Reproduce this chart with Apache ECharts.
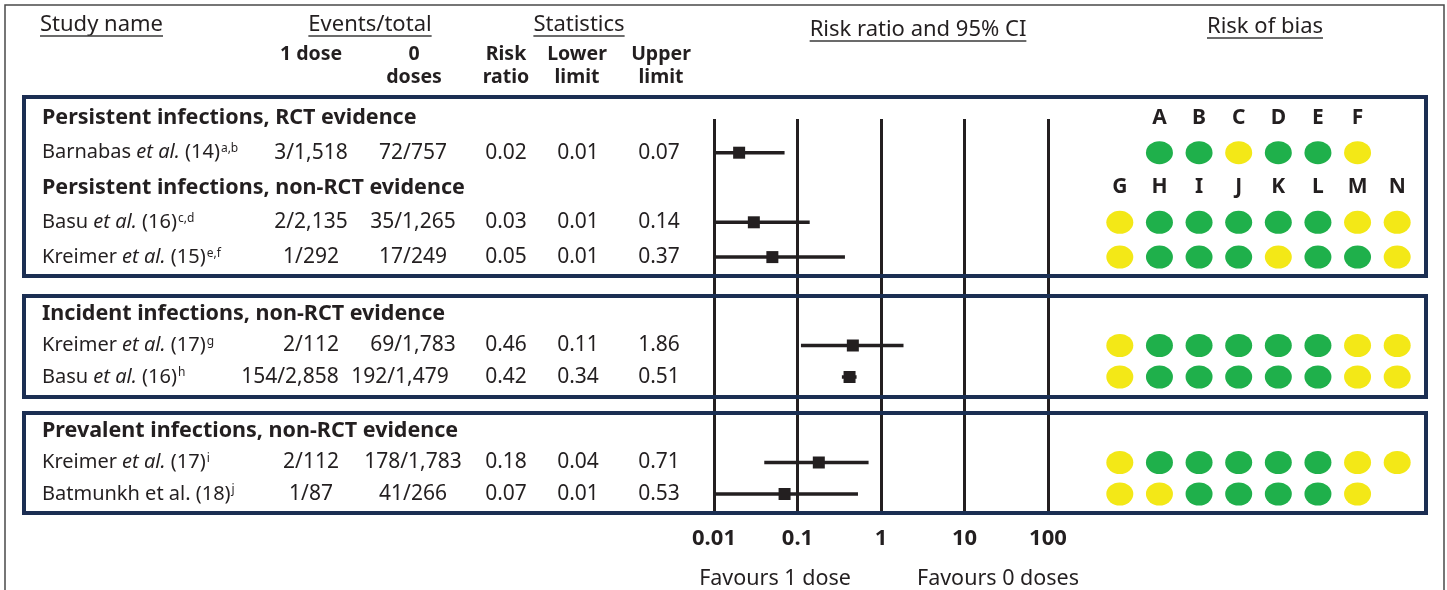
<!DOCTYPE html>
<html><head><meta charset="utf-8">
<script src="https://cdn.jsdelivr.net/npm/echarts@6/dist/echarts.min.js"></script>
<style>html,body{margin:0;padding:0;background:#fff}#c{width:1447px;height:590px}</style>
</head><body><div id="c"></div>
<script>
// ---------------- DATA ----------------
const groupTitles = [
  'Persistent infections, RCT evidence',
  'Persistent infections, non-RCT evidence',
  'Incident infections, non-RCT evidence',
  'Prevalent infections, non-RCT evidence'
];
const groupDomainSet = [0, 1, 1, 1];          // 0 = RCT domains (A-F), 1 = non-RCT domains (G-N)
const studyAuthors = ['Barnabas', 'Basu', 'Kreimer', 'Kreimer', 'Basu', 'Kreimer', 'Batmunkh'];
const studyEtAlItalic = [true, true, true, true, true, true, false];
const studyRefs = ['14', '16', '15', '17', '16', '17', '18'];
const studyNotes = ['a,b', 'c,d', 'e,f', 'g', 'h', 'i', 'j'];
const studyGroup = [0, 1, 1, 2, 2, 3, 3];
const events1Dose = ['3/1,518', '2/2,135', '1/292', '2/112', '154/2,858', '2/112', '1/87'];
const events0Doses = ['72/757', '35/1,265', '17/249', '69/1,783', '192/1,479', '178/1,783', '41/266'];
const riskRatio = [0.02, 0.03, 0.05, 0.46, 0.42, 0.18, 0.07];
const lowerLimit = [0.01, 0.01, 0.01, 0.11, 0.34, 0.04, 0.01];
const upperLimit = [0.07, 0.14, 0.37, 1.86, 0.51, 0.71, 0.53];
const domainsRCT = ['A', 'B', 'C', 'D', 'E', 'F'];
const domainsNonRCT = ['G', 'H', 'I', 'J', 'K', 'L', 'M', 'N'];
// L = low risk (green), S = some concerns (yellow), null = not assessed
const riskOfBias = [
  ['L', 'L', 'S', 'L', 'L', 'S'],
  ['S', 'L', 'L', 'L', 'L', 'L', 'S', 'S'],
  ['S', 'L', 'L', 'L', 'S', 'L', 'L', 'S'],
  ['S', 'L', 'L', 'L', 'L', 'L', 'S', 'S'],
  ['S', 'L', 'L', 'L', 'L', 'L', 'S', 'S'],
  ['S', 'L', 'L', 'L', 'L', 'L', 'S', 'S'],
  ['S', 'S', 'L', 'L', 'L', 'L', 'S', null]
];
const xTickLabels = ['0.01', '0.1', '1', '10', '100'];
const headerTitles = ['Study name', 'Events/total', 'Statistics', 'Risk ratio and 95% CI', 'Risk of bias'];
const subHeaders = [['1 dose'], ['0', 'doses'], ['Risk', 'ratio'], ['Lower', 'limit'], ['Upper', 'limit']];
const favourLabels = ['Favours 1 dose', 'Favours 0 doses'];

// ---------------- LAYOUT / STYLE ----------------
const FONT = '"Noto Sans", "Open Sans", sans-serif';
const TXT = '#231f20';
const NAVY = '#1b2e52';
const COLORS = { L: '#1fb04b', S: '#f3e817' };
const boxes = [
  { groups: [0, 1], top: 97, bottom: 276, gridTop: 100.5, gridH: 174 },
  { groups: [2], top: 296, bottom: 397, gridTop: 298.25, gridH: 94.5 },
  { groups: [3], top: 413, bottom: 513, gridTop: 415.25, gridH: 94.5 }
];
const BOX_L = 24, BOX_R = 1426;
const FOREST_L = 714, FOREST_W = 334;
const ROB_L = 1100, ROB_W = 317, ROB_SLOTS = 8;
const NAME_X = 42;
const colCenters = [311, 413, 506, 578, 659];
const headerCenters = [null, 370, 579, 918, 1265];
const headerY = [25, 25, 25, 30, 27];
const subHeaderCenters = [311, 414, 506, 577, 661];
const cellNudge = { 4: [-21, -13] }; // crowded row shifted as in the original

const ellipsePath = 'path://M0,11.5A13.5,11.5 0 1 1 27,11.5A13.5,11.5 0 1 1 0,11.5Z';

const measureCtx = document.createElement('canvas').getContext('2d');
function textW(t, font) { measureCtx.font = font; return measureCtx.measureText(t).width; }

// ---------------- BUILD ----------------
const grid = [{ left: FOREST_L, width: FOREST_W, top: 119, height: 394 }];
const xAxis = [{
  type: 'log', logBase: 10, min: 0.01, max: 100, gridIndex: 0,
  axisLine: { show: false }, axisTick: { show: false },
  splitLine: { show: true, showMinLine: true, showMaxLine: true, lineStyle: { color: TXT, width: 3 } },
  axisLabel: {
    color: TXT, fontFamily: FONT, fontWeight: 'bold', fontSize: 22, margin: 15,
    formatter: v => xTickLabels[Math.round(Math.log10(v)) + 2]
  }
}];
const yAxis = [{ type: 'value', gridIndex: 0, min: 0, max: 1, show: false }];
const series = [{ type: 'scatter', xAxisIndex: 0, yAxisIndex: 0, data: [] }];
const graphics = [];

// outer frame
graphics.push({ type: 'rect', shape: { x: 5, y: 5, width: 1439, height: 600 }, style: { fill: null, stroke: '#4a4a4a', lineWidth: 1.5 }, z: 1 });

boxes.forEach((b, bi) => {
  const rows = [];
  b.groups.forEach(g => {
    rows.push({ type: 'group', g });
    studyGroup.forEach((sg, s) => { if (sg === g) rows.push({ type: 'study', s }); });
  });
  const rowKeys = rows.map((r, i) => 'r' + i);
  const fi = grid.length, ri = grid.length + 1;
  grid.push({ left: FOREST_L, width: FOREST_W, top: b.gridTop, height: b.gridH });
  grid.push({ left: ROB_L, width: ROB_W, top: b.gridTop, height: b.gridH });
  xAxis.push({ type: 'log', logBase: 10, min: 0.01, max: 100, gridIndex: fi, show: false });
  xAxis.push({ type: 'category', gridIndex: ri, data: Array.from({ length: ROB_SLOTS }, (_, i) => 's' + i), show: false });
  yAxis.push({ type: 'category', gridIndex: fi, data: rowKeys, inverse: true, show: false });
  yAxis.push({ type: 'category', gridIndex: ri, data: rowKeys, inverse: true, show: false });

  // forest plot marks
  const forestData = [];
  rows.forEach((r, i) => { if (r.type === 'study') forestData.push([riskRatio[r.s], i, lowerLimit[r.s], upperLimit[r.s]]); });
  series.push({
    type: 'custom', xAxisIndex: fi, yAxisIndex: fi, data: forestData, z: 5,
    renderItem: (params, api) => {
      const p = api.coord([api.value(0), api.value(1)]);
      const l = api.coord([api.value(2), api.value(1)]);
      const u = api.coord([api.value(3), api.value(1)]);
      return {
        type: 'group', children: [
          { type: 'line', shape: { x1: l[0], y1: p[1], x2: u[0], y2: p[1] }, style: { stroke: TXT, lineWidth: 3.5 } },
          { type: 'rect', shape: { x: p[0] - 6, y: p[1] - 6, width: 12, height: 12 }, style: { fill: TXT } }
        ]
      };
    }
  });

  // table text
  series.push({
    type: 'custom', xAxisIndex: fi, yAxisIndex: fi, data: rows.map((r, i) => [1, i]), z: 5,
    renderItem: (params, api) => {
      const r = rows[params.dataIndex];
      const y = api.coord([1, api.value(1)])[1];
      if (r.type === 'group') {
        return { type: 'text', style: { text: groupTitles[r.g], x: NAME_X, y: y, fill: TXT, font: 'bold 21.5px ' + FONT, align: 'left', verticalAlign: 'middle' } };
      }
      const s = r.s;
      const nudge = cellNudge[s] || [0, 0];
      const FS = 20;
      const base = { fill: TXT, fontFamily: FONT, fontSize: 21, verticalAlign: 'middle' };
      const children = [{
        type: 'text', style: Object.assign({}, base, {
          text: studyAuthors[s] + ' {' + (studyEtAlItalic[s] ? 'it' : 'n') + '|et al.}{n| (' + studyRefs[s] + ')}{sup|' + studyNotes[s] + '}',
          x: NAME_X, y: y, align: 'left', fontSize: FS,
          rich: {
            it: { fontStyle: 'italic', fontFamily: FONT, fontSize: FS, fill: TXT, color: TXT },
            n: { fontFamily: FONT, fontSize: FS, fill: TXT, color: TXT },
            sup: { fontFamily: FONT, fontSize: 12, fill: TXT, color: TXT, padding: [0, 0, 8, 1] }
          }
        })
      }];
      const cells = [events1Dose[s], events0Doses[s], riskRatio[s].toFixed(2), lowerLimit[s].toFixed(2), upperLimit[s].toFixed(2)];
      cells.forEach((c, ci) => {
        children.push({ type: 'text', style: Object.assign({}, base, { text: c, x: colCenters[ci] + (ci < 2 ? nudge[ci] : 0), y: y, align: 'center' }) });
      });
      return { type: 'group', children };
    }
  });

  // risk of bias dots
  const dots = [];
  const letters = [];
  const seenSets = {};
  rows.forEach((r, i) => {
    if (r.type === 'group') {
      const set = groupDomainSet[r.g];
      if (!seenSets[set] && bi === 0) {
        const doms = set === 0 ? domainsRCT : domainsNonRCT;
        const off = (ROB_SLOTS - doms.length) / 2;
        doms.forEach((d, k) => letters.push({ value: [off + k, i], name: d }));
      }
      seenSets[set] = true;
    } else {
      const vals = riskOfBias[r.s];
      const off = (ROB_SLOTS - vals.length) / 2;
      vals.forEach((v, k) => { if (v) dots.push({ value: [off + k, i], itemStyle: { color: COLORS[v], opacity: 1 } }); });
    }
  });
  series.push({
    type: 'scatter', xAxisIndex: ri, yAxisIndex: ri, data: dots, symbol: ellipsePath, symbolSize: [27, 23],
    itemStyle: { opacity: 1 }, silent: true, z: 5
  });
  series.push({
    type: 'custom', xAxisIndex: ri, yAxisIndex: ri, data: letters, z: 5,
    renderItem: (params, api) => {
      const p = api.coord([api.value(0), api.value(1)]);
      return { type: 'text', style: { text: letters[params.dataIndex].name, x: p[0], y: p[1], fill: TXT, font: 'bold 21px ' + FONT, align: 'center', verticalAlign: 'middle' } };
    }
  });

  graphics.push({ type: 'rect', shape: { x: BOX_L, y: b.top, width: BOX_R - BOX_L, height: b.bottom - b.top }, style: { fill: null, stroke: NAVY, lineWidth: 4 }, z: 10 });
});

// headers with underlines
const HFONT = '22px ' + FONT;
headerTitles.forEach((t, i) => {
  const w = textW(t, HFONT);
  const cx = headerCenters[i] === null ? 40 + w / 2 : headerCenters[i];
  const y = headerY[i];
  graphics.push({ type: 'text', style: { text: t, x: cx, y: y, font: HFONT, fill: TXT, align: 'center', verticalAlign: 'middle', textAlign: 'center', textVerticalAlign: 'middle' } });
  graphics.push({ type: 'line', shape: { x1: cx - w / 2, y1: y + 11, x2: cx + w / 2, y2: y + 11 }, style: { stroke: '#3a3a3a', lineWidth: 1.5 } });
});
subHeaders.forEach((lines, i) => {
  lines.forEach((t, k) => {
    graphics.push({ type: 'text', style: { text: t, x: subHeaderCenters[i], y: 54 + k * 23, font: 'bold 19.5px ' + FONT, fill: TXT, align: 'center', verticalAlign: 'middle', textAlign: 'center', textVerticalAlign: 'middle' } });
  });
});
const favourCenters = [775, 998];
favourLabels.forEach((t, i) => {
  graphics.push({ type: 'text', style: { text: t, x: favourCenters[i], y: 579, font: '21.5px ' + FONT, fill: TXT, align: 'center', verticalAlign: 'middle', textAlign: 'center', textVerticalAlign: 'middle' } });
});

const chart = echarts.init(document.getElementById('c'), null, { renderer: 'canvas' });
chart.setOption({
  animation: false,
  backgroundColor: '#fff',
  grid, xAxis, yAxis, series,
  graphic: { elements: graphics }
});
</script></body></html>
